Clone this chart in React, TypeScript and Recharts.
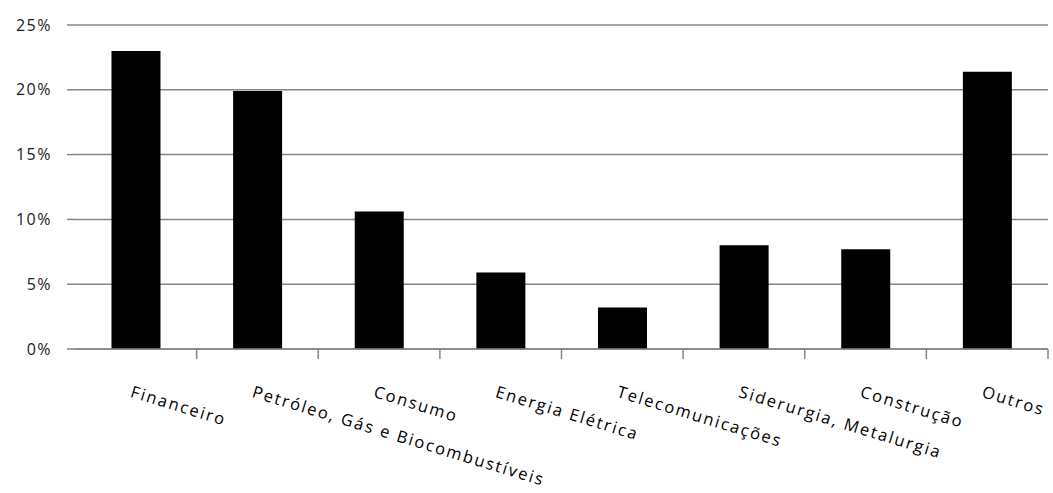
import { Bar, BarChart, CartesianGrid, XAxis, YAxis } from "recharts";

const sectors = [
  "Financeiro",
  "Petróleo, Gás e Biocombustíveis",
  "Consumo",
  "Energia Elétrica",
  "Telecomunicações",
  "Siderurgia, Metalurgia",
  "Construção",
  "Outros",
];
const shares = [23.0, 19.9, 10.6, 5.9, 3.2, 8.0, 7.7, 21.4];
const yTicks = [0, 5, 10, 15, 20, 25];

const FONT = "'Open Sans', 'Noto Sans', sans-serif";
const GRAY = "#868686";

function CategoryTick(props: any) {
  const { x, y, payload } = props;
  const half = payload?.offset ?? 60.8;
  return (
    <g>
      <line x1={x + half} y1={y - 8} x2={x + half} y2={y + 2} stroke={GRAY} strokeWidth={1.5} />
      <text
        x={x - 2}
        y={y + 26}
        transform={`rotate(17, ${x - 2}, ${y + 26})`}
        textAnchor="start"
        dominantBaseline="hanging"
        fontFamily={FONT}
        fontSize={16.5}
        letterSpacing={1.9}
        fill="#000"
      >
        {payload.value}
      </text>
    </g>
  );
}

export default function App() {
  const data = sectors.map((name, i) => ({ name, value: shares[i] }));
  return (
    <div style={{ position: "absolute", left: 0, top: 0, width: 1053, height: 493, background: "#fff" }}>
      <BarChart
        width={1053}
        height={493}
        data={data}
        margin={{ top: 25, right: 5, bottom: 0, left: 0 }}
        barCategoryGap="30%"
      >
        <CartesianGrid vertical={false} stroke={GRAY} strokeWidth={1.5} />
        <XAxis
          dataKey="name"
          height={144}
          interval={0}
          stroke={GRAY}
          strokeWidth={1.5}
          tickLine={false}
          tick={<CategoryTick />}
        />
        <YAxis
          width={75}
          domain={[0, 25]}
          ticks={yTicks}
          axisLine={false}
          tickLine={{ stroke: GRAY, strokeWidth: 1.5 }}
          tickSize={8}
          tickMargin={15}
          tickFormatter={(v) => `${v}%`}
          tick={{ fontFamily: FONT, fontSize: 16, letterSpacing: 1.5, fill: "#222" }}
        />
        <Bar dataKey="value" fill="#000" isAnimationActive={false} />
      </BarChart>
    </div>
  );
}
